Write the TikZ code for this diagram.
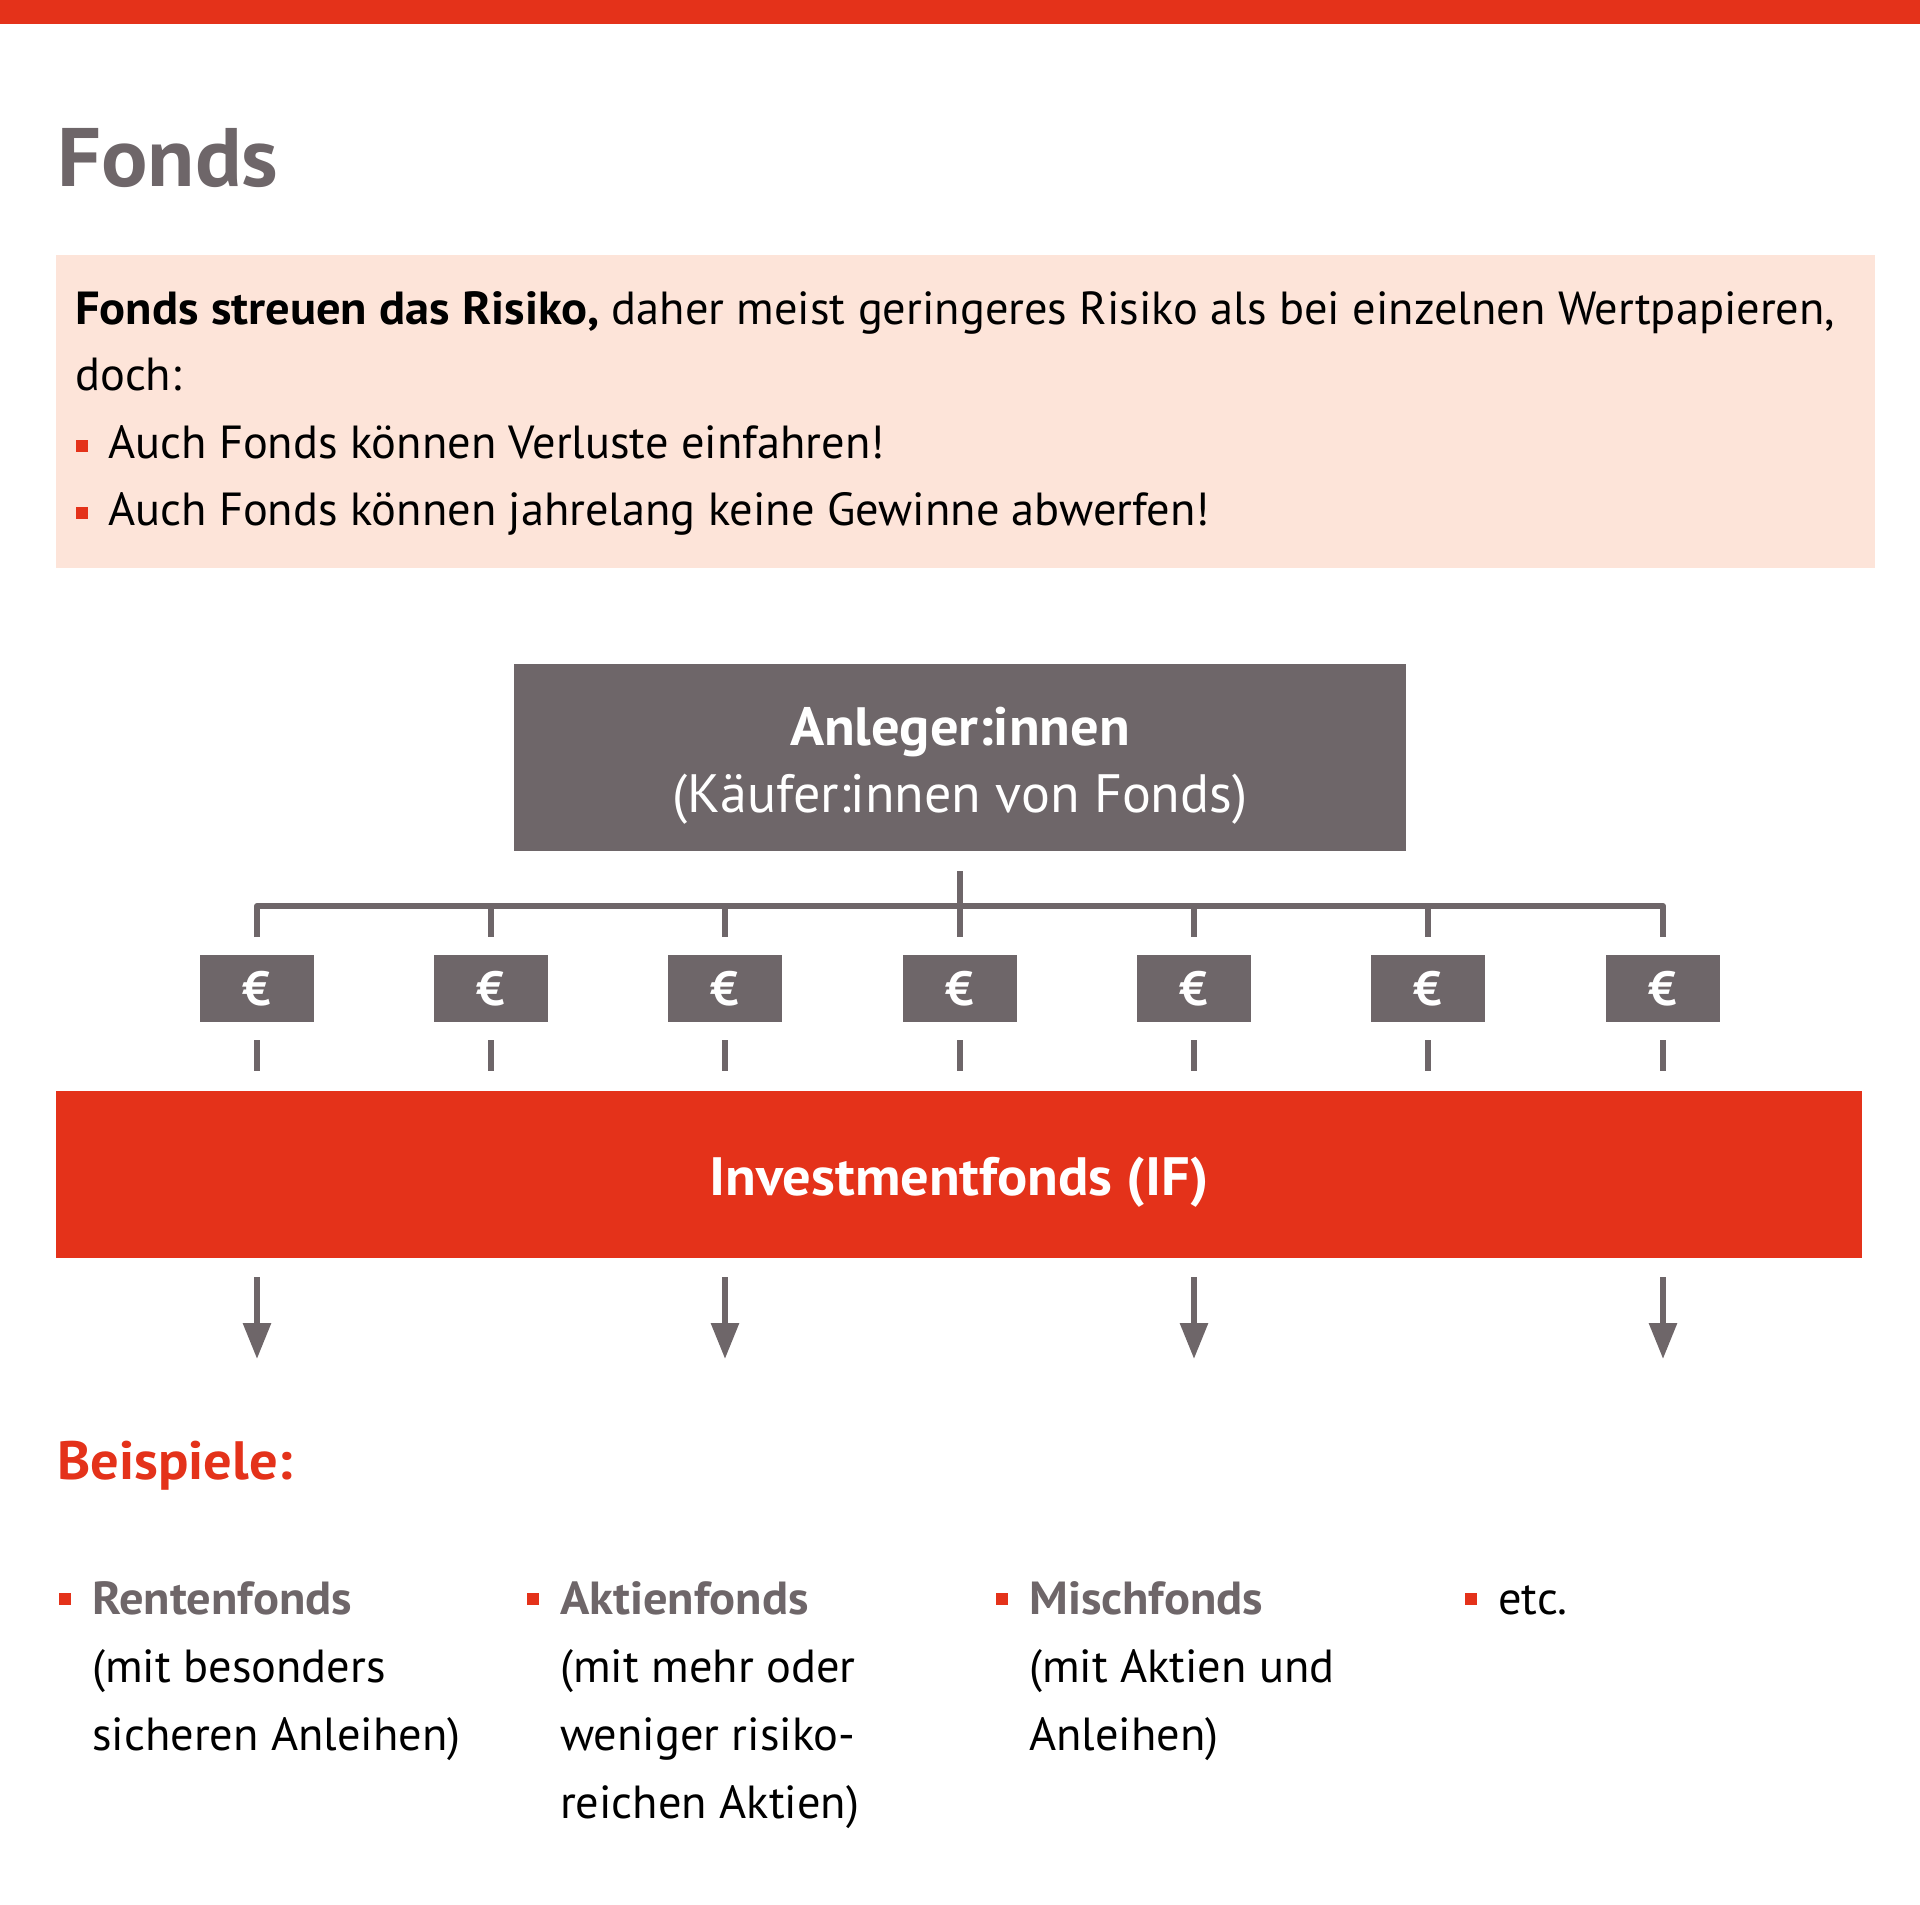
\documentclass[tikz,border=0pt]{standalone}
\usepackage{fontspec}
\setmainfont{PT Sans}[BoldFeatures={FakeStretch=1.045}]
\usetikzlibrary{arrows.meta}

\definecolor{fondsred}{HTML}{E4321A}
\definecolor{fondsgray}{HTML}{6E6669}
\definecolor{fondspink}{HTML}{FDE4D9}

\newcommand{\bodysize}{\fontsize{46.4}{68}\selectfont}
\newcommand{\boxsize}{\fontsize{54}{68}\selectfont}

\begin{document}
\begin{tikzpicture}[x=1pt, y=-1pt,
    txt/.style={anchor=base west, inner sep=0pt, font=\bodysize},
    mid/.style={anchor=base, inner sep=0pt, text=white, font=\boxsize},
    sq/.style={fill=fondsred, minimum size=12pt, inner sep=0pt},
    conn/.style={draw=fondsgray, line width=6pt},
    eurobox/.style={fill=fondsgray, text=white, minimum width=114pt, minimum height=67pt, inner sep=0pt, font=\fontsize{48}{48}\selectfont\bfseries},
    arrow/.style={draw=fondsgray, line width=6pt, -{Triangle[width=27pt,length=36pt]}}]
  \useasboundingbox (0,0) rectangle (1920,1905);

  % header
  \fill[fondsred] (0,0) rectangle (1920,24);
  \node[txt, text=fondsgray, font=\fontsize{83}{83}\selectfont\bfseries] (T) at (57,187) {Fonds};

  % info box
  \fill[fondspink] (56,255) rectangle (1875,568);
  \node[txt] (L1) at (75,324) {\textbf{Fonds streuen das Risiko,} daher meist geringeres Risiko als bei einzelnen Wertpapieren,};
  \node[txt] (L2) at (75,390) {doch:};
  \node[sq] (B1) at (82,446) {};
  \node[txt] (L3) at (108,458) {Auch Fonds können Verluste einfahren!};
  \node[sq] (B2) at (82,513) {};
  \node[txt] (L4) at (108,525) {Auch Fonds können jahrelang keine Gewinne abwerfen!};

  % investors
  \node[fill=fondsgray, minimum width=892pt, minimum height=187pt] (A) at (960,757.5) {};
  \node[mid, font=\boxsize\bfseries] (A1) at (960,745) {Anleger:innen};
  \node[mid] (A2) at (960,812) {(Käufer:innen von Fonds)};

  \coordinate (C) at (960,871);
  \foreach \i/\x in {1/257,2/491,3/725,4/960,5/1194,6/1428,7/1663} {
    \node[eurobox] (E\i) at (\x,988.5) {€};
    \coordinate (U\i) at (\x,906);
    \coordinate (V\i) at (\x,937);
    \coordinate (W\i) at (\x,1040);
    \coordinate (X\i) at (\x,1071);
    \draw[conn] (U\i) -- (V\i);
    \draw[conn] (W\i) -- (X\i);
  }
  \draw[conn, line join=round] (V1) -- (U1) -- (U7) -- (V7);
  \draw[conn] (C) -- (V4);

  % fund
  \node[fill=fondsred, minimum width=1806pt, minimum height=167pt] (IF) at (959,1174.5) {};
  \node[mid, font=\boxsize\bfseries] (IF1) at (959,1195) {Investmentfonds (IF)};

  \foreach \n/\x in {1/257,2/725,3/1194,4/1663} {
    \coordinate (P\n) at (\x,1277);
    \coordinate (Q\n) at (\x,1359);
    \draw[arrow] (P\n) -- (Q\n);
  }

  % examples
  \node[txt, text=fondsred, font=\boxsize\bfseries] (BSP) at (57,1479) {Beispiele:};

  \node[sq] (S1) at (65,1599) {};
  \node[txt, text=fondsgray, font=\bodysize\bfseries] (R1) at (92,1614) {Rentenfonds};
  \node[txt] (R2) at (92,1682) {(mit besonders};
  \node[txt] (R3) at (92,1750) {sicheren Anleihen)};

  \node[sq] (S2) at (533,1599) {};
  \node[txt, text=fondsgray, font=\bodysize\bfseries] (K1) at (560,1614) {Aktienfonds};
  \node[txt] (K2) at (560,1682) {(mit mehr oder};
  \node[txt] (K3) at (560,1750) {weniger risiko-};
  \node[txt] (K4) at (560,1818) {reichen Aktien)};

  \node[sq] (S3) at (1002,1599) {};
  \node[txt, text=fondsgray, font=\bodysize\bfseries] (M1) at (1029,1614) {Mischfonds};
  \node[txt] (M2) at (1029,1682) {(mit Aktien und};
  \node[txt] (M3) at (1029,1750) {Anleihen)};

  \node[sq] (S4) at (1471,1599) {};
  \node[txt] (ETC) at (1498,1614) {etc.};
\end{tikzpicture}
\end{document}
